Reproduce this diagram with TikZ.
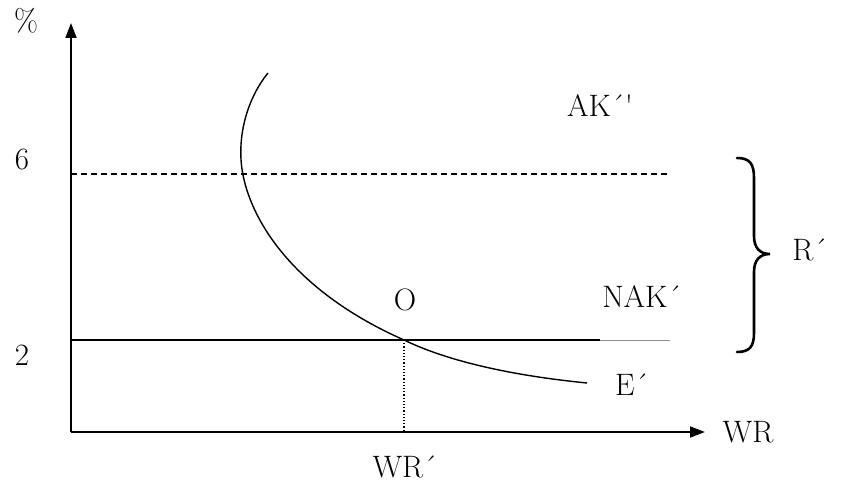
\documentclass[tikz,border=0pt]{standalone}
\usepackage{fontspec}
\usetikzlibrary{arrows.meta}
\begin{document}
\begin{tikzpicture}[x=1pt,y=-1pt,
  every node/.style={font=\fontsize{31}{34}\selectfont, inner sep=0pt},
  axisline/.style={line width=1.8pt,-{Triangle[length=15pt,width=11pt]}},
  curveline/.style={line width=1.4pt},
  dashline/.style={line width=1.3pt, dash pattern=on 6pt off 4pt},
  dotline/.style={line width=1.2pt, dotted},
  greyline/.style={line width=0.8pt, black!45},
  bracestyle/.style={line width=2.6pt, line cap=round}]
\useasboundingbox (0,0) rectangle (844,487);
% coordinates
\coordinate (orig) at (71,432);
\coordinate (ytop) at (71,23);
\coordinate (xend) at (705,432);
\coordinate (d0) at (71,174);
\coordinate (d1) at (668,174);
\coordinate (h0) at (71,340);
\coordinate (h1) at (600,340);
\coordinate (h2) at (670,340);
\coordinate (oo) at (404,340);
\coordinate (ox) at (404,432);
\coordinate (ctop) at (268,73);
\coordinate (cmid) at (243,175);
\coordinate (cend) at (587,383);
% axes
\draw[axisline] (orig) -- (ytop);
\draw[axisline] (orig) -- (xend);
% lines
\draw[dashline] (d0) -- (d1);
\draw[curveline] (h0) -- (h1);
\draw[greyline] (h1) -- (h2);
\draw[dotline] (oo) -- (ox);
% curve E'
\draw[curveline] (ctop) .. controls (246,100) and (236,140) .. (cmid)
  .. controls (253.5,227.5) and (300,294) .. (oo)
  .. controls (460,367) and (537,378) .. (cend);
% brace
\draw[bracestyle] (737,158) .. controls (750,158) and (754,164) .. (754,178) -- (754,236) .. controls (754,248) and (760,254) .. (770,254)
  .. controls (760,254) and (754,260) .. (754,272) -- (754,333) .. controls (754,346) and (750,352) .. (737,352);
% labels
\node (pct) at (26,21) {\%};
\node (six) at (22,160) {6};
\node (two) at (22,355) {2};
\node (ak) at (600,106) {AK´\textquotesingle};
\node (r) at (810,250) {R´};
\node (o) at (405,300) {O};
\node (nak) at (642,297) {NAK´};
\node (e) at (632,385) {E´};
\node (wr) at (748,432) {WR};
\node (wrp) at (405,467) {WR´};
\end{tikzpicture}
\end{document}
